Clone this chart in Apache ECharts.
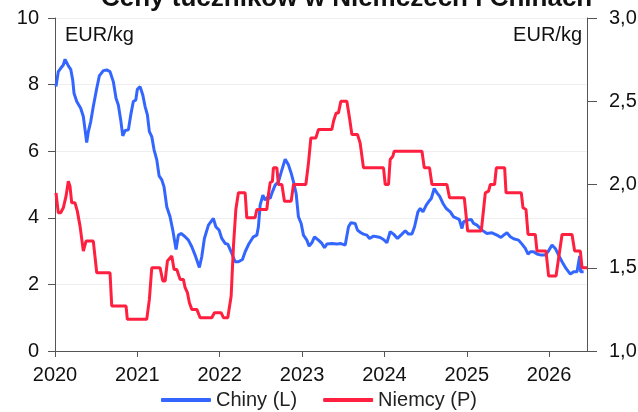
<!DOCTYPE html>
<html>
<head>
<meta charset="utf-8">
<script src="https://cdn.jsdelivr.net/npm/echarts@6/dist/echarts.min.js"></script>
<style>
  html, body { margin: 0; padding: 0; background: #fff; }
  #chart { width: 638px; height: 412px; }
</style>
</head>
<body>
<div id="chart"></div>
<script>
// ceny tuczników, EUR/kg, czas w latach dziesiętnych
var chinaYears = [2020.012, 2020.040, 2020.069, 2020.101, 2020.122, 2020.142, 2020.162, 2020.191, 2020.215, 2020.231,
  2020.264, 2020.312, 2020.344, 2020.365, 2020.385, 2020.405, 2020.434, 2020.465, 2020.507, 2020.538,
  2020.587, 2020.628, 2020.668, 2020.708, 2020.741, 2020.769, 2020.798, 2020.823, 2020.851, 2020.891,
  2020.920, 2020.951, 2020.981, 2021.000, 2021.033, 2021.066, 2021.094, 2021.122, 2021.146, 2021.175,
  2021.203, 2021.236, 2021.264, 2021.297, 2021.324, 2021.357, 2021.397, 2021.430, 2021.470, 2021.498,
  2021.531, 2021.580, 2021.620, 2021.661, 2021.701, 2021.753, 2021.782, 2021.814, 2021.863, 2021.923,
  2021.953, 2021.993, 2022.025, 2022.066, 2022.098, 2022.147, 2022.187, 2022.227, 2022.276, 2022.309,
  2022.357, 2022.409, 2022.451, 2022.470, 2022.491, 2022.524, 2022.552, 2022.584, 2022.612, 2022.640,
  2022.673, 2022.713, 2022.755, 2022.795, 2022.835, 2022.868, 2022.896, 2022.928, 2022.956, 2022.989,
  2023.017, 2023.058, 2023.086, 2023.119, 2023.151, 2023.199, 2023.241, 2023.272, 2023.301, 2023.362,
  2023.423, 2023.463, 2023.524, 2023.564, 2023.593, 2023.645, 2023.673, 2023.714, 2023.746, 2023.787,
  2023.819, 2023.868, 2023.909, 2023.949, 2023.989, 2024.030, 2024.070, 2024.111, 2024.159, 2024.213,
  2024.253, 2024.293, 2024.334, 2024.366, 2024.407, 2024.435, 2024.468, 2024.508, 2024.536, 2024.569,
  2024.605, 2024.638, 2024.670, 2024.711, 2024.751, 2024.800, 2024.840, 2024.881, 2024.909, 2024.942,
  2024.961, 2025.002, 2025.055, 2025.083, 2025.124, 2025.185, 2025.245, 2025.306, 2025.367, 2025.416,
  2025.459, 2025.488, 2025.529, 2025.569, 2025.629, 2025.671, 2025.711, 2025.744, 2025.772, 2025.812,
  2025.853, 2025.905, 2025.954, 2025.994, 2026.035, 2026.075, 2026.115, 2026.157, 2026.205, 2026.258,
  2026.298, 2026.339, 2026.359, 2026.371, 2026.383, 2026.419];
var chinaValues = [7.94, 8.39, 8.49, 8.59, 8.76, 8.72, 8.56, 8.46, 8.14, 7.74,
  7.49, 7.29, 7.04, 6.64, 6.26, 6.59, 6.89, 7.34, 7.89, 8.26,
  8.42, 8.44, 8.39, 8.09, 7.59, 7.39, 6.94, 6.46, 6.62, 6.64,
  7.09, 7.49, 7.54, 7.86, 7.94, 7.69, 7.34, 7.09, 6.59, 6.44,
  6.04, 5.74, 5.26, 5.14, 4.93, 4.33, 4.03, 3.63, 3.05, 3.48,
  3.53, 3.43, 3.33, 3.13, 2.88, 2.51, 2.83, 3.38, 3.78, 3.98,
  3.73, 3.63, 3.38, 3.23, 3.21, 2.93, 2.68, 2.68, 2.75, 2.98,
  3.23, 3.43, 3.48, 3.73, 4.38, 4.68, 4.53, 4.63, 4.58, 4.78,
  4.98, 5.08, 5.44, 5.76, 5.59, 5.34, 5.08, 4.73, 4.03, 3.83,
  3.48, 3.33, 3.15, 3.25, 3.43, 3.33, 3.23, 3.10, 3.21, 3.23,
  3.21, 3.23, 3.18, 3.73, 3.85, 3.83, 3.63, 3.55, 3.51, 3.48,
  3.38, 3.45, 3.43, 3.41, 3.35, 3.25, 3.58, 3.51, 3.38, 3.51,
  3.61, 3.51, 3.51, 3.73, 4.18, 4.28, 4.18, 4.38, 4.48, 4.58,
  4.88, 4.75, 4.65, 4.43, 4.28, 4.18, 4.03, 3.98, 3.95, 3.68,
  3.88, 3.93, 3.95, 3.83, 3.78, 3.63, 3.53, 3.55, 3.48, 3.41,
  3.50, 3.55, 3.43, 3.37, 3.33, 3.21, 3.08, 2.91, 2.98, 2.98,
  2.91, 2.88, 2.88, 3.01, 3.18, 3.08, 2.88, 2.68, 2.48, 2.31,
  2.38, 2.38, 2.35, 2.85, 2.38, 2.38];

var germanyYears = [2020.012, 2020.040, 2020.069, 2020.101, 2020.134, 2020.162, 2020.182, 2020.203, 2020.243, 2020.271,
  2020.304, 2020.344, 2020.377, 2020.465, 2020.507, 2020.668, 2020.689, 2020.863, 2020.878, 2021.114,
  2021.146, 2021.175, 2021.276, 2021.309, 2021.337, 2021.365, 2021.418, 2021.446, 2021.479, 2021.519,
  2021.559, 2021.580, 2021.608, 2021.632, 2021.661, 2021.722, 2021.762, 2021.904, 2021.936, 2022.017,
  2022.045, 2022.098, 2022.139, 2022.167, 2022.196, 2022.227, 2022.309, 2022.329, 2022.430, 2022.451,
  2022.572, 2022.592, 2022.612, 2022.640, 2022.652, 2022.694, 2022.713, 2022.755, 2022.786, 2022.868,
  2022.896, 2023.046, 2023.078, 2023.107, 2023.168, 2023.199, 2023.362, 2023.382, 2023.414, 2023.442,
  2023.471, 2023.544, 2023.576, 2023.605, 2023.673, 2023.705, 2023.746, 2023.989, 2024.010, 2024.050,
  2024.070, 2024.103, 2024.119, 2024.456, 2024.484, 2024.548, 2024.577, 2024.759, 2024.791, 2024.970,
  2025.011, 2025.176, 2025.204, 2025.225, 2025.265, 2025.286, 2025.338, 2025.359, 2025.460, 2025.477,
  2025.662, 2025.683, 2025.719, 2025.744, 2025.832, 2025.853, 2025.962, 2025.994, 2026.084, 2026.157,
  2026.278, 2026.310, 2026.379, 2026.400, 2026.461];
var germanyValues = [1.95, 1.83, 1.83, 1.86, 1.93, 2.02, 1.99, 1.89, 1.89, 1.84,
  1.75, 1.60, 1.66, 1.66, 1.47, 1.47, 1.27, 1.27, 1.19, 1.19,
  1.31, 1.50, 1.50, 1.42, 1.42, 1.54, 1.57, 1.49, 1.49, 1.43,
  1.43, 1.38, 1.35, 1.29, 1.25, 1.25, 1.20, 1.20, 1.23, 1.23,
  1.20, 1.20, 1.33, 1.63, 1.85, 1.95, 1.95, 1.80, 1.80, 1.85,
  1.85, 1.94, 2.01, 2.02, 2.10, 2.10, 2.00, 2.00, 1.90, 1.90,
  2.00, 2.00, 2.13, 2.28, 2.28, 2.33, 2.33, 2.38, 2.43, 2.43,
  2.50, 2.50, 2.40, 2.30, 2.30, 2.25, 2.10, 2.10, 2.00, 2.00,
  2.15, 2.17, 2.20, 2.20, 2.10, 2.10, 2.00, 2.00, 1.92, 1.92,
  1.72, 1.72, 1.85, 1.95, 1.96, 2.00, 2.00, 2.10, 2.10, 1.95,
  1.95, 1.86, 1.85, 1.70, 1.70, 1.60, 1.60, 1.45, 1.45, 1.70,
  1.70, 1.60, 1.60, 1.50, 1.50];

var yearTicks = [2020, 2026.46];

function pairs(xs, ys) {
  return xs.map(function (x, i) { return [x, ys[i]]; });
}

var font = 'Liberation Sans';
var axisColor = '#555';

var myChart = echarts.init(document.getElementById('chart'));
myChart.setOption({
  animation: false,
  textStyle: { fontFamily: font },
  title: {
    text: 'Ceny tuczników w Niemczech i Chinach',
    left: 96,
    top: -19,
    textStyle: { fontSize: 26, fontWeight: 'bold', color: '#111', fontFamily: font }
  },
  legend: {
    bottom: -3,
    left: 'center',
    itemWidth: 50,
    itemHeight: 4,
    itemGap: 26,
    icon: 'roundRect',
    textStyle: { fontSize: 20, color: '#222', fontFamily: font },
    data: ['Chiny (L)', 'Niemcy (P)']
  },
  grid: {
    left: 55,
    right: 51,
    top: 18,
    bottom: 61,
    containLabel: false,
    outerBoundsMode: 'none'
  },
  graphic: [
    { type: 'text', left: 65, top: 25, style: { text: 'EUR/kg', font: '20px ' + font, fill: '#111' } },
    { type: 'text', right: 56, top: 25, style: { text: 'EUR/kg', font: '20px ' + font, fill: '#111' } }
  ],
  xAxis: {
    type: 'value',
    min: yearTicks[0],
    max: yearTicks[1],
    interval: 1,
    splitLine: { show: false },
    axisLine: { show: true, lineStyle: { color: axisColor, width: 1 } },
    axisTick: { show: true, length: 6, lineStyle: { color: axisColor } },
    axisLabel: {
      fontSize: 20, color: '#111', margin: 14, fontFamily: font,
      formatter: function (v) { return String(Math.round(v)); }
    }
  },
  yAxis: [
    {
      type: 'value',
      min: 0,
      max: 10,
      interval: 2,
      axisLine: { show: true, lineStyle: { color: axisColor } },
      axisTick: { show: true, length: 7, lineStyle: { color: axisColor } },
      axisLabel: { fontSize: 20, color: '#111', margin: 16, fontFamily: font },
      splitLine: { show: true, lineStyle: { color: '#eeeeee', width: 1 } }
    },
    {
      type: 'value',
      min: 1,
      max: 3,
      interval: 0.5,
      position: 'right',
      axisLine: { show: true, lineStyle: { color: axisColor } },
      axisTick: { show: true, length: 10, lineStyle: { color: axisColor } },
      axisLabel: {
        fontSize: 20, color: '#111', margin: 22, fontFamily: font,
        formatter: function (v) { return v.toFixed(1).replace('.', ','); }
      },
      splitLine: { show: false }
    }
  ],
  series: [
    {
      name: 'Chiny (L)',
      type: 'line',
      yAxisIndex: 0,
      showSymbol: false,
      symbol: 'none',
      color: '#3366ff',
      lineStyle: { width: 3, color: '#3366ff' },
      data: pairs(chinaYears, chinaValues)
    },
    {
      name: 'Niemcy (P)',
      type: 'line',
      yAxisIndex: 1,
      showSymbol: false,
      symbol: 'none',
      color: '#ff1f3f',
      lineStyle: { width: 3, color: '#ff1f3f' },
      data: pairs(germanyYears, germanyValues)
    }
  ]
});
</script>
</body>
</html>
